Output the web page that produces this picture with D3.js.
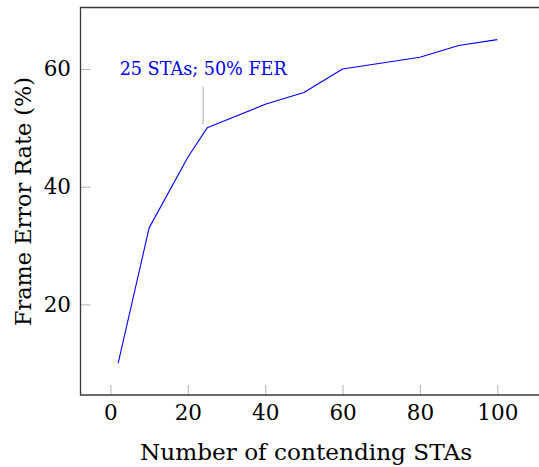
<!DOCTYPE html>
<html>
<head>
<meta charset="utf-8">
<script src="https://cdn.jsdelivr.net/npm/d3@7/dist/d3.min.js"></script>
<style>
  html, body { margin: 0; padding: 0; background: #fff; }
  svg { display: block; }
  text { font-family: "DejaVu Serif", "Liberation Serif", serif; }
</style>
</head>
<body>
<svg id="chart" width="539" height="467"></svg>
<script>
// Number of contending stations and the measured frame error rate
const stations = [2, 10, 20, 25, 40, 50, 60, 80, 90, 100];
const ferPercent = [10, 33, 45, 50, 54, 56, 60, 62, 64, 65];
const xTicks = [0, 20, 40, 60, 80, 100];
const yTicks = [20, 40, 60];
const note = { x: 25, y: 50, label: "25 STAs; 50% FER" };

const svg = d3.select("#chart");

// Plot frame (right side runs past the canvas edge)
const frame = { left: 80.5, right: 560, top: 7.5, bottom: 395 };

const x = d3.scaleLinear().domain([-7.74, 116.2]).range([frame.left, frame.right]);
const y = d3.scaleLinear().domain([4.59, 70.46]).range([frame.bottom, frame.top]);

const tickColor = "#b3b3b3";
const axisColor = "#3a3a3a";

// Bottom axis: ticks pointing into the plot
const gx = svg.append("g")
  .attr("transform", `translate(0,${frame.bottom})`)
  .call(d3.axisBottom(x).tickValues(xTicks).tickSizeInner(-10).tickSizeOuter(0).tickPadding(10));
gx.select(".domain").remove();
gx.selectAll(".tick line").attr("stroke", tickColor).attr("stroke-width", 1);
gx.selectAll(".tick text").attr("font-size", 21.5).attr("fill", "#000")
  .attr("font-family", "DejaVu Serif, serif");

// Left axis
const gy = svg.append("g")
  .attr("transform", `translate(${frame.left},0)`)
  .call(d3.axisLeft(y).tickValues(yTicks).tickSizeInner(-10).tickSizeOuter(0).tickPadding(9.5));
gy.select(".domain").remove();
gy.selectAll(".tick line").attr("stroke", tickColor).attr("stroke-width", 1);
gy.selectAll(".tick text").attr("font-size", 21.5).attr("fill", "#000")
  .attr("font-family", "DejaVu Serif, serif");

// Frame lines: left, bottom, top
svg.append("path")
  .attr("d", `M${frame.right},${frame.top}H${frame.left}V${frame.bottom}H${frame.right}`)
  .attr("fill", "none").attr("stroke", axisColor).attr("stroke-width", 1.3);

// Data line
const line = d3.line().x((d, i) => x(stations[i])).y(d => y(d));
svg.append("path")
  .datum(ferPercent)
  .attr("d", line)
  .attr("fill", "none")
  .attr("stroke", "#0000ff")
  .attr("stroke-width", 1.1)
  .attr("stroke-linejoin", "round");

// Annotation pin and label
const nx = x(note.x) - 4;
svg.append("line")
  .attr("x1", nx).attr("x2", nx)
  .attr("y1", y(note.y) - 3.5).attr("y2", y(note.y) - 41)
  .attr("stroke", "#c0c0c0").attr("stroke-width", 1.3);
svg.append("text")
  .attr("x", nx).attr("y", 74.5)
  .attr("text-anchor", "middle")
  .attr("font-size", 17.6)
  .attr("fill", "#0000ff")
  .text(note.label);

// Axis titles
svg.append("text")
  .attr("x", 306).attr("y", 460)
  .attr("text-anchor", "middle")
  .attr("font-size", 23.2)
  .attr("fill", "#000")
  .text("Number of contending STAs");

svg.append("text")
  .attr("transform", `translate(31,201.5) rotate(-90)`)
  .attr("text-anchor", "middle")
  .attr("font-size", 22.4)
  .attr("fill", "#000")
  .text("Frame Error Rate (%)");
</script>
</body>
</html>
